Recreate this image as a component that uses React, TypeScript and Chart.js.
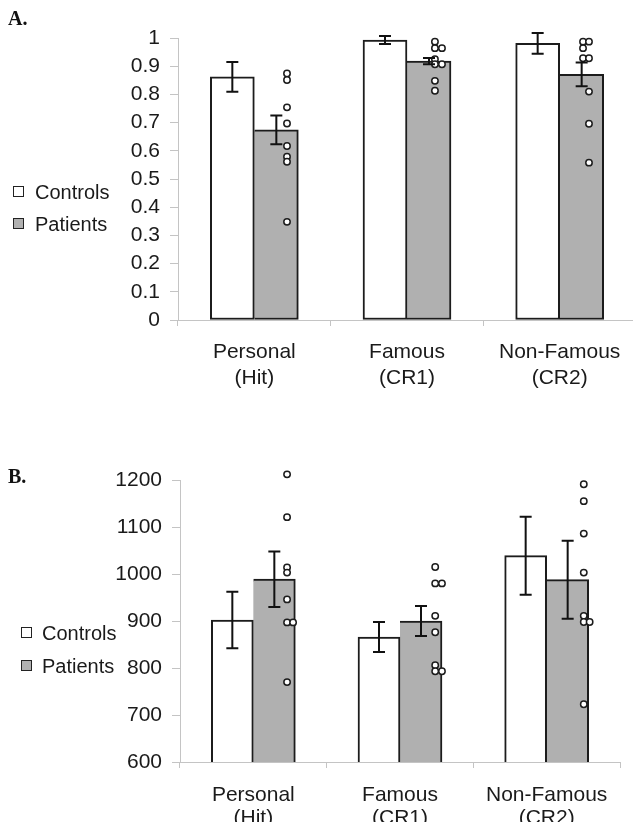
import React, { useEffect, useRef } from 'react';
import { Chart, registerables } from 'chart.js';

Chart.register(...registerables);

// ---------- data ----------
const CATEGORIES = [['Personal', '(Hit)'], ['Famous', '(CR1)'], ['Non-Famous', '(CR2)']];
const SERIES = ['Controls', 'Patients'];

// Panel A (proportion)
const A_CONTROLS = [0.862, 0.993, 0.981];
const A_CONTROLS_SE = [0.053, 0.014, 0.037];
const A_PATIENTS = [0.674, 0.918, 0.871];
const A_PATIENTS_SE = [0.051, 0.011, 0.042];
const A_PERSONAL_DOTS = [0.874, 0.851, 0.754, 0.697, 0.617, 0.579, 0.561, 0.348];
const A_FAMOUS_DOTS = [0.987, 0.964, 0.964, 0.925, 0.907, 0.907, 0.848, 0.813];
const A_NONFAMOUS_DOTS = [0.987, 0.987, 0.964, 0.928, 0.928, 0.81, 0.696, 0.558];
const A_Y_MIN = 0;
const A_Y_MAX = 1;
const A_Y_STEP = 0.1;

// Panel B (RT, ms)
const B_CONTROLS = [902, 866, 1039];
const B_CONTROLS_SE = [60, 32, 83];
const B_PATIENTS = [989, 900, 988];
const B_PATIENTS_SE = [59, 32, 83];
const B_PERSONAL_DOTS = [1212, 1121, 1014, 1003, 946, 897, 897, 770];
const B_FAMOUS_DOTS = [1015, 980, 980, 911, 876, 806, 793, 793];
const B_NONFAMOUS_DOTS = [1191, 1155, 1086, 1003, 911, 898, 898, 723];
const B_Y_MIN = 600;
const B_Y_MAX = 1200;
const B_Y_STEP = 100;

// ---------- layout (horizontal placement of overlapping dots, in category units) ----------
const A_DOT_SHIFT = [
  [0.214, 0.214, 0.214, 0.214, 0.214, 0.214, 0.214, 0.214],
  [0.183, 0.183, 0.229, 0.183, 0.183, 0.229, 0.183, 0.183],
  [0.153, 0.192, 0.153, 0.153, 0.192, 0.192, 0.192, 0.192],
];
const B_DOT_SHIFT = [
  [0.23, 0.23, 0.23, 0.23, 0.23, 0.23, 0.271, 0.23],
  [0.24, 0.24, 0.286, 0.24, 0.24, 0.24, 0.24, 0.286],
  [0.253, 0.253, 0.253, 0.253, 0.253, 0.253, 0.293, 0.253],
];

const FONT = '"Liberation Sans", Arial, sans-serif';
const AXIS_GRAY = '#c4c4c4';
const DARK = '#1c1c1c';
const PATIENT_FILL = '#b0b0b0';

const errorBarPlugin = {
  id: 'errorBars',
  afterDatasetsDraw(chart: any, _args: any, opts: any) {
    const { ctx } = chart;
    const y = chart.scales.y;
    (opts.errors || []).forEach((errs: number[], di: number) => {
      const meta = chart.getDatasetMeta(di);
      meta.data.forEach((bar: any, i: number) => {
        const raw: any = chart.data.datasets[di].data[i];
        const v = raw.y as number;
        const top = y.getPixelForValue(v + errs[i]);
        const bot = y.getPixelForValue(v - errs[i]);
        ctx.save();
        ctx.strokeStyle = '#111';
        ctx.lineWidth = 2;
        ctx.beginPath();
        ctx.moveTo(bar.x, top);
        ctx.lineTo(bar.x, bot);
        ctx.moveTo(bar.x - 6, top);
        ctx.lineTo(bar.x + 6, top);
        ctx.moveTo(bar.x - 6, bot);
        ctx.lineTo(bar.x + 6, bot);
        ctx.stroke();
        ctx.restore();
      });
    });
  },
};

function makeConfig(p: {
  controls: number[]; controlsSe: number[]; patients: number[]; patientsSe: number[];
  dots: number[][]; shifts: number[][]; yMin: number; yMax: number; yStep: number;
  padTop: number; padBottom: number; padRight: number; yWidth: number; xHeight: number;
  xPad: number; xLineHeight: number; barWidth: number;
}): any {
  const points: { x: number; y: number }[] = [];
  p.dots.forEach((arr, ci) => arr.forEach((v, k) => points.push({ x: ci + p.shifts[ci][k], y: v })));
  return {
    type: 'bar',
    data: {
      labels: CATEGORIES,
      datasets: [
        {
          label: SERIES[0], data: p.controls.map((v, i) => ({ x: i, y: v })),
          backgroundColor: '#ffffff', borderColor: DARK,
          borderWidth: 2, borderSkipped: false, barThickness: p.barWidth,
          xAxisID: 'xd', yAxisID: 'y', order: 1,
        },
        {
          label: SERIES[1], data: p.patients.map((v, i) => ({ x: i, y: v })),
          backgroundColor: PATIENT_FILL, borderColor: DARK,
          borderWidth: 2, borderSkipped: 'left', barThickness: p.barWidth,
          xAxisID: 'xd', yAxisID: 'y', order: 1,
        },
        {
          type: 'scatter', label: 'individual', data: points, xAxisID: 'xd', yAxisID: 'y',
          pointRadius: 3.2, pointHoverRadius: 9, pointBorderWidth: 1.5, pointBackgroundColor: '#ffffff',
          pointBorderColor: DARK, showLine: false, order: 0, clip: false,
        },
      ],
    },
    options: {
      responsive: false,
      animation: false,
      events: [],
      layout: { padding: { top: p.padTop, bottom: p.padBottom, right: p.padRight, left: 0 } },
      plugins: {
        legend: { display: false },
        tooltip: { enabled: false },
        errorBars: { errors: [p.controlsSe, p.patientsSe] },
      },
      scales: {
        x: {
          type: 'category', offset: true,
          grid: { display: true, offset: true, drawOnChartArea: false, drawTicks: true, tickLength: 6, color: AXIS_GRAY, lineWidth: 1 },
          border: { display: true, color: AXIS_GRAY, width: 1 },
          ticks: { color: '#1a1a1a', font: { family: FONT, size: 21, lineHeight: p.xLineHeight }, padding: p.xPad, maxRotation: 0, autoSkip: false },
          afterFit: (s: any) => { s.height = p.xHeight; },
        },
        xd: { type: 'linear', display: false, offset: false, min: -0.5, max: 2.5 },
        y: {
          type: 'linear', min: p.yMin, max: p.yMax,
          grid: { display: true, drawOnChartArea: false, drawTicks: true, tickLength: 8, color: AXIS_GRAY, lineWidth: 1 },
          border: { display: true, color: AXIS_GRAY, width: 1 },
          ticks: {
            stepSize: p.yStep, color: '#1a1a1a', padding: 10,
            font: { family: FONT, size: 21 },
            callback: (v: number) => String(Math.round(v * 1000) / 1000),
          },
          afterFit: (s: any) => { s.width = p.yWidth; },
        },
      },
    },
    plugins: [errorBarPlugin],
  };
}

function LegendBox({ left, top, fill }: { left: number; top: number; fill: string }) {
  return (
    <div style={{ position: 'absolute', left, top, width: 9, height: 9, border: '1.6px solid #222', background: fill }} />
  );
}

function LegendText({ left, top, text }: { left: number; top: number; text: string }) {
  return (
    <div style={{ position: 'absolute', left, top, fontFamily: FONT, fontSize: 20, lineHeight: '20px', color: '#1a1a1a', whiteSpace: 'nowrap' }}>{text}</div>
  );
}

export default function App() {
  const refA = useRef<HTMLCanvasElement>(null);
  const refB = useRef<HTMLCanvasElement>(null);

  useEffect(() => {
    const a = new Chart(refA.current as HTMLCanvasElement, makeConfig({
      controls: A_CONTROLS, controlsSe: A_CONTROLS_SE, patients: A_PATIENTS, patientsSe: A_PATIENTS_SE,
      dots: [A_PERSONAL_DOTS, A_FAMOUS_DOTS, A_NONFAMOUS_DOTS], shifts: A_DOT_SHIFT,
      yMin: A_Y_MIN, yMax: A_Y_MAX, yStep: A_Y_STEP,
      padTop: 38, padBottom: 10, padRight: 14, yWidth: 178, xHeight: 70, xPad: 13, xLineHeight: 26 / 21,
      barWidth: 44,
    }));
    const b = new Chart(refB.current as HTMLCanvasElement, makeConfig({
      controls: B_CONTROLS, controlsSe: B_CONTROLS_SE, patients: B_PATIENTS, patientsSe: B_PATIENTS_SE,
      dots: [B_PERSONAL_DOTS, B_FAMOUS_DOTS, B_NONFAMOUS_DOTS], shifts: B_DOT_SHIFT,
      yMin: B_Y_MIN, yMax: B_Y_MAX, yStep: B_Y_STEP,
      padTop: 60, padBottom: 12, padRight: 13, yWidth: 180, xHeight: 60, xPad: 16, xLineHeight: 23 / 21,
      barWidth: 42,
    }));
    return () => { a.destroy(); b.destroy(); };
  }, []);

  return (
    <div style={{ position: 'absolute', left: 0, top: 0, width: 633, height: 834, overflow: 'hidden', background: '#ffffff' }}>
      <canvas ref={refA} width={650} height={400} style={{ position: 'absolute', left: 0, top: 0, width: 650, height: 400 }} />
      <canvas ref={refB} width={633} height={414} style={{ position: 'absolute', left: 0, top: 420, width: 633, height: 414 }} />

      <div style={{ position: 'absolute', left: 8, top: 8, fontFamily: '"Liberation Serif", "Times New Roman", serif', fontWeight: 'bold', fontSize: 20, lineHeight: '20px', color: '#111' }}>A.</div>
      <div style={{ position: 'absolute', left: 8, top: 466, fontFamily: '"Liberation Serif", "Times New Roman", serif', fontWeight: 'bold', fontSize: 20, lineHeight: '20px', color: '#111' }}>B.</div>

      <LegendBox left={13} top={186} fill="#ffffff" />
      <LegendText left={35} top={182} text={SERIES[0]} />
      <LegendBox left={13} top={218} fill={PATIENT_FILL} />
      <LegendText left={35} top={214} text={SERIES[1]} />

      <LegendBox left={21} top={627} fill="#ffffff" />
      <LegendText left={42} top={623} text={SERIES[0]} />
      <LegendBox left={21} top={660} fill={PATIENT_FILL} />
      <LegendText left={42} top={656} text={SERIES[1]} />
    </div>
  );
}
